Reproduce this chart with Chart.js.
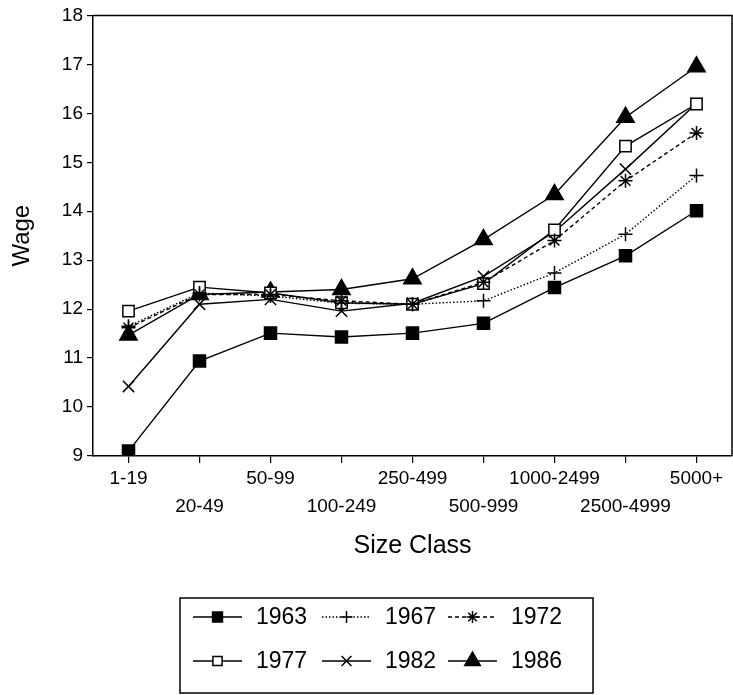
<!DOCTYPE html>
<html>
<head>
<meta charset="utf-8">
<script src="https://cdn.jsdelivr.net/npm/chart.js@4.4.1/dist/chart.umd.min.js"></script>
<style>
  html, body { margin: 0; padding: 0; background: #fff; }
  #wrap { width: 733px; height: 695px; }
</style>
</head>
<body>
<div id="wrap"><canvas id="chart" width="733" height="695"></canvas></div>
<script>
// ---------- dados ----------
const sizeClasses = ['1-19', '20-49', '50-99', '100-249', '250-499', '500-999', '1000-2499', '2500-4999', '5000+'];
const years = ['1963', '1967', '1972', '1977', '1982', '1986'];

const wage1963 = [9.10, 10.94, 11.51, 11.43, 11.51, 11.71, 12.44, 13.09, 14.01];
const wage1967 = [11.65, 12.33, 12.27, 12.12, 12.10, 12.17, 12.74, 13.53, 14.73];
const wage1972 = [11.62, 12.30, 12.30, 12.17, 12.10, 12.55, 13.40, 14.62, 15.60];
const wage1977 = [11.96, 12.45, 12.33, 12.13, 12.10, 12.52, 13.62, 15.33, 16.19];
const wage1982 = [10.42, 12.10, 12.20, 11.96, 12.12, 12.67, 13.58, 14.86, 16.20];
const wage1986 = [11.47, 12.30, 12.35, 12.40, 12.62, 13.42, 14.34, 15.92, 16.95];

const yMin = 9, yMax = 18;

const FONT = "'Liberation Sans', Arial, Helvetica, sans-serif";
const INK = '#000';

// estilo de cada série (linha + marcador)
const styles = [
  { data: wage1963, dash: [],       point: 'rect',     radius: 8.5, fill: INK,    legendRadius: 7 },
  { data: wage1967, dash: [1.5, 2], point: 'cross',    radius: 7,   fill: INK,    legendRadius: 6 },
  { data: wage1972, dash: [4, 3],   point: 'star',     radius: 7,   fill: INK,    legendRadius: 6 },
  { data: wage1977, dash: [],       point: 'rect',     radius: 8,   fill: '#fff', legendRadius: 6.5 },
  { data: wage1982, dash: [],       point: 'crossRot', radius: 8,   fill: INK,    legendRadius: 7 },
  { data: wage1986, dash: [],       point: 'triangle', radius: 10,  fill: INK,    legendRadius: 9 },
];

const datasets = years.map((y, i) => ({
  label: y,
  data: styles[i].data,
  borderColor: INK,
  borderWidth: 1.4,
  borderDash: styles[i].dash,
  pointStyle: styles[i].point,
  pointRadius: styles[i].radius,
  pointBackgroundColor: styles[i].fill,
  pointBorderColor: INK,
  pointBorderWidth: 1.5,
  tension: 0,
  fill: false,
}));

// ---------- moldura do gráfico (topo e direita) ----------
const framePlugin = {
  id: 'frame',
  afterDraw(chart) {
    const { ctx, chartArea: a } = chart;
    ctx.save();
    ctx.strokeStyle = INK;
    ctx.lineWidth = 1.5;
    ctx.beginPath();
    ctx.moveTo(a.left, a.top);
    ctx.lineTo(a.right, a.top);
    ctx.lineTo(a.right, a.bottom);
    ctx.stroke();
    ctx.restore();
  }
};

// ---------- legenda em caixa, 2 linhas x 3 colunas ----------
const legendPlugin = {
  id: 'boxLegend',
  afterDraw(chart) {
    const ctx = chart.ctx;
    const box = { x: 180, y: 598, w: 413, h: 95 };
    const rows = [617, 661];
    const colLine = [193, 322, 448];
    const lineLen = 49;
    const textGap = 14;

    ctx.save();
    ctx.strokeStyle = INK;
    ctx.lineWidth = 1.5;
    ctx.strokeRect(box.x, box.y, box.w, box.h);

    chart.data.datasets.forEach((ds, i) => {
      const row = Math.floor(i / 3), col = i % 3;
      const y = rows[row];
      const x0 = colLine[col];
      ctx.setLineDash(ds.borderDash);
      ctx.lineWidth = 1.4;
      ctx.beginPath();
      ctx.moveTo(x0, y);
      ctx.lineTo(x0 + lineLen, y);
      ctx.stroke();
      ctx.setLineDash([]);

      ctx.fillStyle = ds.pointBackgroundColor;
      ctx.strokeStyle = INK;
      ctx.lineWidth = 1.5;
      Chart.helpers.drawPoint(ctx, {
        pointStyle: ds.pointStyle,
        rotation: 0,
        radius: styles[i].legendRadius,
        borderWidth: 1.5
      }, x0 + lineLen / 2, y);

      ctx.fillStyle = INK;
      ctx.font = `23px ${FONT}`;
      ctx.textAlign = 'left';
      ctx.textBaseline = 'middle';
      ctx.fillText(ds.label, x0 + lineLen + textGap, y + 1);
    });
    ctx.restore();
  }
};

new Chart(document.getElementById('chart'), {
  type: 'line',
  data: { labels: sizeClasses, datasets },
  options: {
    responsive: false,
    animation: false,
    layout: { autoPadding: false, padding: { left: 0, top: 14, right: 1, bottom: 134 } },
    plugins: {
      legend: { display: false },
      tooltip: { enabled: false },
    },
    scales: {
      x: {
        type: 'category',
        offset: true,
        grid: { display: true, drawOnChartArea: false, drawTicks: true, tickLength: 7, color: INK, lineWidth: 1.2 },
        border: { display: true, color: INK, width: 1.5 },
        ticks: {
          color: INK,
          autoSkip: false,
          maxRotation: 0,
          minRotation: 0,
          padding: 2,
          font: { family: FONT, size: 19, lineHeight: 28 / 19 },
          callback: (v, i) => (i % 2 === 0 ? [sizeClasses[i]] : ['', sizeClasses[i]]),
        },
        title: {
          display: true,
          text: 'Size Class',
          color: INK,
          font: { family: FONT, size: 25 },
          padding: { top: 0, bottom: 0 },
        },
        afterFit(scale) {
          scale.height = 105;
          scale.paddingLeft = 0;
          scale.paddingRight = 0;
        },
      },
      y: {
        min: yMin,
        max: yMax,
        grid: { display: true, drawOnChartArea: false, drawTicks: true, tickLength: 6, color: INK, lineWidth: 1.2 },
        border: { display: true, color: INK, width: 1.5 },
        ticks: {
          stepSize: 1,
          color: INK,
          padding: 4,
          font: { family: FONT, size: 19 },
        },
        title: {
          display: true,
          text: 'Wage',
          color: INK,
          font: { family: FONT, size: 24 },
          padding: { top: 8, bottom: 0 },
        },
        afterFit(scale) { scale.width = 93; },
      },
    },
  },
  plugins: [framePlugin, legendPlugin],
});
</script>
</body>
</html>
